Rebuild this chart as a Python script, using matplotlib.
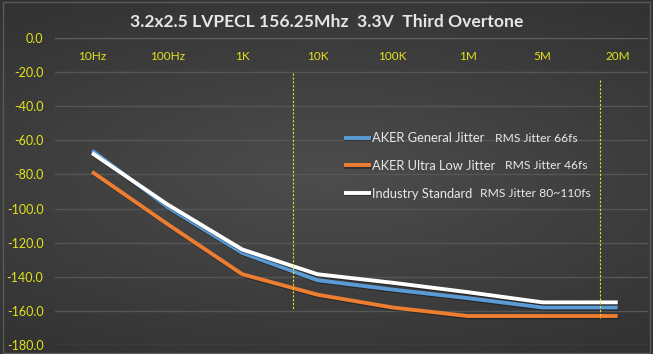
import numpy as np
import matplotlib
matplotlib.use("Agg")
import matplotlib.pyplot as plt
import matplotlib.patheffects as pe

# data (dBc/Hz)
freqs = ["10Hz", "100Hz", "1K", "10K", "100K", "1M", "5M", "20M"]
general = [-66, -99, -126, -142, -147.5, -152.5, -158, -158]
ultra_low = [-78.5, -109, -138.5, -150.5, -158, -163, -163, -163]
industry = [-67.5, -97.5, -124, -138.5, -143.5, -149, -155, -155]

names = ["AKER General Jitter", "AKER Ultra Low Jitter", "Industry Standard"]
rms = ["RMS Jitter 66fs", "RMS Jitter 46fs", "RMS Jitter 80~110fs"]
colors = ["#5b9bd5", "#ed7d31", "#ffffff"]

# integration limits marked with dashed lines (category position, y range)
marker_x = [2.68, 6.77]
marker_y = [(-20.5, -159.6), (-24.6, -164.3)]

yellow = "#e3e31a"
plt.rcParams["font.family"] = ["Lato", "DejaVu Sans"]

fig = plt.figure(figsize=(6.53, 3.54), dpi=100)
fig.patch.set_facecolor("#383838")

# dark radial background like the Excel style
bg = fig.add_axes([0, 0, 1, 1], zorder=-10)
yy, xx = np.mgrid[-1:1:200j, -1:1:360j]
r = np.sqrt((xx * 0.75) ** 2 + yy ** 2)
g = np.clip(0.30 - 0.085 * r, 0, 1)
bg.imshow(np.dstack([g, g, g]), aspect="auto", extent=[0, 1, 0, 1])
bg.axis("off")
fig.add_artist(plt.Rectangle((0.004, 0.004), 0.992, 0.99, transform=fig.transFigure,
                             fill=False, edgecolor="#5a5a5a", lw=1))

ax = fig.add_axes([0.0835, 0.0254, 0.9085, 0.8673])
ax.set_facecolor("none")

x = np.arange(len(freqs))
shadow = [pe.SimpleLineShadow(offset=(0.5, -0.9), shadow_color="black", alpha=0.35),
          pe.Normal()]
for vals, lab, c in zip([general, ultra_low, industry], names, colors):
    ax.plot(x, vals, color=c, lw=2.8, label=lab, solid_capstyle="butt",
            path_effects=shadow)

for mx, (y0, y1) in zip(marker_x, marker_y):
    ax.plot([mx, mx], [y0, y1], color=yellow, lw=0.8, ls=(0, (2, 1.5)))

ax.set_xlim(-0.5, 7.4)
ax.set_ylim(-180, 0)
ax.set_yticks(np.arange(-180, 1, 20))
ax.set_yticklabels([f"{v:.1f}" for v in np.arange(-180, 1, 20)])
ax.yaxis.grid(True, color="#565656", lw=1)
ax.set_axisbelow(True)

ax.set_xticks(x)
ax.set_xticklabels(freqs)
ax.xaxis.tick_top()
ax.tick_params(axis="x", length=0, pad=-17.5, colors=yellow, labelsize=8.5)
ax.tick_params(axis="y", length=0, pad=8, colors=yellow, labelsize=9)
for s in ax.spines.values():
    s.set_visible(False)
ax.axhline(0, color="#666666", lw=1.2, zorder=1)

leg = ax.legend(loc="upper left", bbox_to_anchor=(0.468, 0.731), frameon=False,
                fontsize=9.3, handlelength=2.1, handletextpad=0.1,
                labelspacing=1.22)
for t in leg.get_texts():
    t.set_color("#e8e8e8")

fig.text(0.5, 0.937, "3.2x2.5 LVPECL 156.25Mhz  3.3V  Third Overtone",
         ha="center", va="center", color="#e6e6e6", fontsize=12.6,
         fontweight="bold")

# smaller "RMS Jitter" notes right after each legend label
fig.canvas.draw()
inv = fig.transFigure.inverted()
gaps = [11, 10, 8]
for t, note, gap in zip(leg.get_texts(), rms, gaps):
    bb = t.get_window_extent()
    fx, fy = inv.transform((bb.x1 + gap, (bb.y0 + bb.y1) / 2))
    fig.text(fx, fy, note, ha="left", va="center", color="#e8e8e8", fontsize=8.7)

fig.savefig("out.png", dpi=100, facecolor=fig.get_facecolor())
